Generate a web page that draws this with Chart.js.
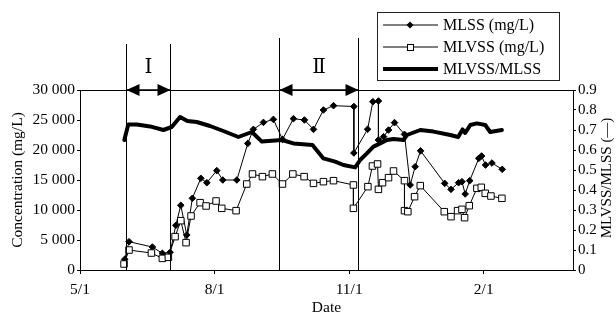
<!DOCTYPE html>
<html>
<head>
<meta charset="utf-8">
<script src="https://cdn.jsdelivr.net/npm/chart.js@4.4.1/dist/chart.umd.min.js"></script>
<style>
html,body{margin:0;padding:0;background:#fff;}
#wrap{width:616px;height:323px;}
</style>
</head>
<body>
<div id="wrap"><canvas id="c" width="616" height="323"></canvas></div>
<script>
// ---- data (days counted from 5/1) ----
const xTickDays = [0, 92, 184, 276];
const xTickLabels = ['5/1', '8/1', '11/1', '2/1'];

const mlssDays = [30.6, 33.5, 49.5, 56.3, 61.6, 65.5, 68.9, 73, 76.8, 82.6, 86.7, 93.5, 97.6, 107.2, 114.7, 118.5, 125.4, 132.2, 138.4, 145.9, 153.4, 159.6, 166.4, 173.3, 187.2, 187.2, 196.6, 200.2, 204, 204, 207.5, 210.9, 215, 221.8, 225.7, 229.1, 232.8, 249.3, 253.6, 258.8, 261.1, 263.3, 266.4, 272.6, 274.5, 277.2, 281.6, 288.6];
const mlssValues = [1800, 4720, 3830, 2780, 2950, 7440, 10780, 5830, 11950, 15280, 14550, 16560, 15000, 15000, 21100, 23440, 24600, 25100, 21780, 25220, 25000, 23440, 26670, 27390, 27250, 19500, 23450, 28050, 28170, 21670, 22220, 23330, 24560, 22610, 14170, 17220, 19860, 14440, 13440, 14550, 14720, 12670, 14890, 18610, 19000, 17500, 17830, 16780];

const mlvssDays = [30.1, 33.5, 48.8, 56.3, 60.4, 65, 68.9, 72.5, 75.9, 82.1, 86.2, 93, 96.9, 106.7, 114, 117.9, 124.7, 131.5, 138.4, 145.5, 153.2, 159.6, 166.4, 173.3, 186.9, 186.9, 196.8, 199.9, 203.4, 204, 206.8, 210.9, 214.3, 221.8, 221.8, 224.1, 228.7, 232.6, 249, 253.6, 258.1, 261.1, 262.9, 266.1, 271.3, 274.3, 277, 280.9, 288.4];
const mlvssValues = [1000, 3330, 2830, 1940, 2110, 5560, 8220, 4560, 9000, 11220, 10670, 11500, 10280, 9890, 14330, 16000, 15560, 16000, 14330, 16000, 15560, 14440, 14720, 14890, 14170, 10280, 13890, 17330, 17670, 13440, 14550, 15390, 16500, 14890, 9890, 9720, 12220, 14060, 9720, 8890, 9890, 10110, 8720, 10720, 13610, 13780, 12780, 12330, 11950];

const ratioDays = [30.3, 33, 38.8, 47.9, 57, 62.7, 68.4, 73.4, 79.8, 88.9, 98, 108.3, 117.5, 124.3, 138, 145.9, 158.9, 166.4, 174.4, 180.1, 188.1, 191.5, 196.1, 200.6, 205.2, 209.8, 214.3, 221.1, 223.5, 232.6, 241.7, 253.1, 258.5, 261.5, 263.3, 266.8, 271.3, 277, 280.4, 288.4];
const ratioValues = [0.65, 0.728, 0.727, 0.718, 0.70, 0.715, 0.765, 0.745, 0.74, 0.72, 0.695, 0.665, 0.69, 0.642, 0.65, 0.633, 0.625, 0.558, 0.542, 0.525, 0.513, 0.55, 0.583, 0.617, 0.633, 0.65, 0.655, 0.65, 0.675, 0.70, 0.692, 0.675, 0.665, 0.703, 0.685, 0.725, 0.733, 0.725, 0.69, 0.70];

const phaseBounds = [[31.5, 61.6], [136.1, 190.1]];
const phaseNames = ['Ⅰ', 'Ⅱ'];

const legendNames = ['MLSS (mg/L)', 'MLVSS (mg/L)', 'MLVSS/MLSS'];
const axisTitles = {left: 'Concentration (mg/L)', right: 'MLVSS/MLSS (—)', bottom: 'Date'};

const SERIF = '"Liberation Serif", "Times New Roman", serif';
const toXY = (d, v) => d.map((x, i) => ({x: x, y: v[i]}));

const decor = {
  id: 'decor',
  afterDraw(chart) {
    const ctx = chart.ctx;
    const a = chart.chartArea;
    const xs = chart.scales.x;
    ctx.save();
    ctx.strokeStyle = '#000';
    ctx.fillStyle = '#000';
    // top frame line
    ctx.lineWidth = 1;
    ctx.beginPath();
    ctx.moveTo(a.left, a.top + 0.5);
    ctx.lineTo(a.right, a.top + 0.5);
    ctx.stroke();
    // phases
    phaseBounds.forEach((pb, i) => {
      const x1 = Math.round(xs.getPixelForValue(pb[0])) + 0.5;
      const x2 = Math.round(xs.getPixelForValue(pb[1])) + 0.5;
      const topY = i === 0 ? a.top - 46 : a.top - 52;
      ctx.lineWidth = 1;
      ctx.beginPath();
      ctx.moveTo(x1, topY); ctx.lineTo(x1, a.bottom);
      ctx.moveTo(x2, topY); ctx.lineTo(x2, a.bottom);
      ctx.stroke();
      const y = a.top;
      ctx.lineWidth = 1.5;
      ctx.beginPath();
      ctx.moveTo(x1, y); ctx.lineTo(x2, y);
      ctx.stroke();
      const hl = 13, hh = 6;
      ctx.beginPath();
      ctx.moveTo(x1, y); ctx.lineTo(x1 + hl, y - hh); ctx.lineTo(x1 + hl, y + hh); ctx.closePath();
      ctx.fill();
      ctx.beginPath();
      ctx.moveTo(x2, y); ctx.lineTo(x2 - hl, y - hh); ctx.lineTo(x2 - hl, y + hh); ctx.closePath();
      ctx.fill();
      ctx.font = '20px "DejaVu Serif", ' + SERIF;
      ctx.textAlign = 'center';
      ctx.textBaseline = 'middle';
      ctx.fillText(phaseNames[i], (x1 + x2) / 2, a.top - 22);
    });
    // axis titles
    ctx.font = '15.5px ' + SERIF;
    ctx.textAlign = 'center';
    ctx.textBaseline = 'middle';
    const cy = (a.top + a.bottom) / 2;
    ctx.save();
    ctx.translate(18, cy);
    ctx.rotate(-Math.PI / 2);
    ctx.fillText(axisTitles.left, 0, 0);
    ctx.restore();
    ctx.save();
    ctx.font = '15px ' + SERIF;
    ctx.translate(607, cy - 2);
    ctx.rotate(-Math.PI / 2);
    ctx.fillText(axisTitles.right, 0, 0);
    ctx.restore();
    ctx.fillText(axisTitles.bottom, (a.left + a.right) / 2, 308);
    // legend
    const bx = 377.5, by = 12.5, bw = 182, bh = 68;
    ctx.lineWidth = 1;
    ctx.strokeStyle = '#222';
    ctx.strokeRect(bx, by, bw, bh);
    ctx.strokeStyle = '#000';
    const rows = [25, 47, 69];
    const lx1 = 383, lx2 = 438, lm = 410;
    ctx.font = '16px ' + SERIF;
    ctx.textAlign = 'left';
    rows.forEach((ry, i) => {
      ctx.lineWidth = i === 2 ? 4 : 1;
      ctx.beginPath();
      ctx.moveTo(lx1, ry); ctx.lineTo(lx2, ry);
      ctx.stroke();
      if (i === 0) {
        ctx.beginPath();
        ctx.moveTo(lm, ry - 3.5); ctx.lineTo(lm + 3.5, ry); ctx.lineTo(lm, ry + 3.5); ctx.lineTo(lm - 3.5, ry); ctx.closePath();
        ctx.fill();
      } else if (i === 1) {
        ctx.fillStyle = '#fff';
        ctx.fillRect(lm - 3, ry - 3, 6, 6);
        ctx.fillStyle = '#000';
        ctx.lineWidth = 1;
        ctx.strokeRect(lm - 3 + 0.5, ry - 3 + 0.5, 6, 6);
      }
      ctx.fillText(legendNames[i], 443, ry + 1);
    });
    ctx.restore();
  }
};

new Chart(document.getElementById('c'), {
  type: 'line',
  data: {
    datasets: [
      {
        label: legendNames[2], data: toXY(ratioDays, ratioValues), yAxisID: 'y1',
        borderColor: '#000', borderWidth: 4, pointRadius: 0, tension: 0, fill: false, order: 3,
        borderJoinStyle: 'round', borderCapStyle: 'round'
      },
      {
        label: legendNames[0], data: toXY(mlssDays, mlssValues), yAxisID: 'y',
        borderColor: '#000', borderWidth: 1, pointStyle: 'rectRot', pointRadius: 3.3,
        pointBackgroundColor: '#000', pointBorderColor: '#000', pointBorderWidth: 1, tension: 0, fill: false, order: 2
      },
      {
        label: legendNames[1], data: toXY(mlvssDays, mlvssValues), yAxisID: 'y',
        borderColor: '#000', borderWidth: 1, pointStyle: 'rect', pointRadius: 4.6,
        pointBackgroundColor: '#fff', pointBorderColor: '#000', pointBorderWidth: 1, tension: 0, fill: false, order: 1
      }
    ]
  },
  options: {
    responsive: false,
    animation: false,
    devicePixelRatio: 1,
    layout: {padding: {top: 90, left: 0, right: 0, bottom: 0}},
    plugins: {legend: {display: false}, tooltip: {enabled: false}},
    scales: {
      x: {
        type: 'linear', min: 0, max: 337,
        afterBuildTicks: s => { s.ticks = xTickDays.map(v => ({value: v})); },
        afterFit: s => { s.height = 53; },
        ticks: {
          callback: v => xTickLabels[xTickDays.indexOf(v)] || '',
          color: '#000', font: {family: SERIF, size: 15.5}, padding: 7, maxRotation: 0, autoSkip: false
        },
        grid: {display: true, drawOnChartArea: false, drawTicks: true, tickLength: 4, color: '#000'},
        border: {display: true, color: '#000', width: 1}
      },
      y: {
        position: 'left', min: 0, max: 30000,
        afterFit: s => { s.width = 80; },
        ticks: {
          stepSize: 5000, autoSkip: false,
          callback: v => String(v).replace(/\B(?=(\d{3})+(?!\d))/g, ' '),
          color: '#000', font: {family: SERIF, size: 15.5}, padding: 2
        },
        grid: {display: true, drawOnChartArea: false, drawTicks: true, tickLength: 3, color: '#000'},
        border: {display: true, color: '#000', width: 1}
      },
      y1: {
        position: 'right', min: 0, max: 0.9,
        afterFit: s => { s.width = 43; },
        ticks: {
          stepSize: 0.1, autoSkip: false,
          callback: v => (Math.abs(v) < 1e-9 ? '0' : v.toFixed(1)),
          color: '#000', font: {family: SERIF, size: 15}, padding: 2
        },
        grid: {display: true, drawOnChartArea: false, drawTicks: true, tickLength: 3, color: '#000'},
        border: {display: true, color: '#000', width: 1}
      }
    }
  },
  plugins: [decor]
});
</script>
</body>
</html>
